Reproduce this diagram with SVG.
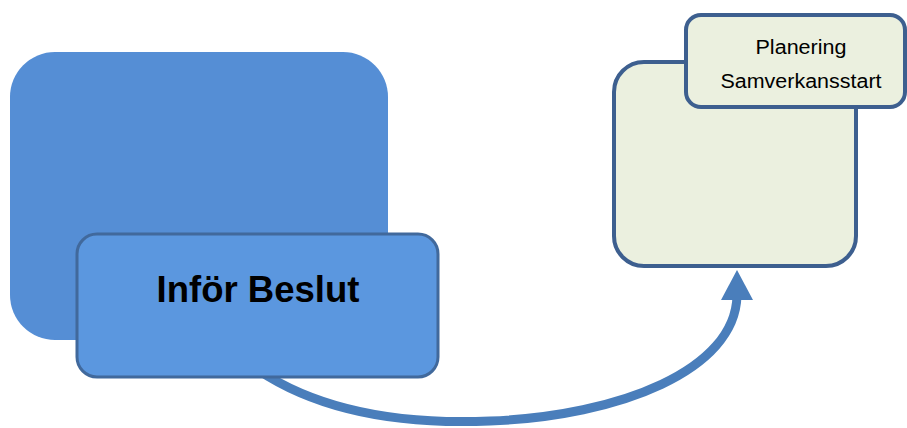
<svg xmlns="http://www.w3.org/2000/svg" width="907" height="428" viewBox="0 0 907 428">
<style>
.green{fill:#ebf0df;stroke:#3d5f8f;stroke-width:4}
.lbl{font-family:"Liberation Sans",Arial,sans-serif;font-size:19.5px;fill:#000;text-anchor:middle}
.big{font-family:"Liberation Sans",Arial,sans-serif;font-size:37px;font-weight:bold;fill:#000;text-anchor:middle}
</style>
<rect width="907" height="428" fill="#fff"/>
<g id="node-back">
<rect x="10" y="52" width="378" height="288" rx="45" ry="45" fill="#558ed5"/>
</g>
<g id="connectors">
<path d="M 258 370 C 330 418, 420 424, 490 421 C 620 416, 735 370, 737 296" fill="none" stroke="#4a7ebb" stroke-width="9"/>
<polygon points="737,270 753,300 721,300" fill="#4a7ebb"/>
</g>
<g id="node-infor">
<rect x="77" y="234" width="361" height="143" rx="20" ry="20" fill="#5b97df" stroke="#41699c" stroke-width="3"/>
<text class="big" x="258" y="302" textLength="203" lengthAdjust="spacingAndGlyphs">Inför Beslut</text>
</g>
<g id="node-green">
<rect class="green" x="614" y="62" width="242" height="204" rx="30" ry="30"/>
</g>
<g id="node-planering">
<rect class="green" x="686" y="15" width="219" height="92" rx="15" ry="15"/>
<text class="lbl" x="801" y="54" textLength="91" lengthAdjust="spacingAndGlyphs">Planering</text>
<text class="lbl" x="801" y="88" textLength="161" lengthAdjust="spacingAndGlyphs">Samverkansstart</text>
</g>
</svg>
